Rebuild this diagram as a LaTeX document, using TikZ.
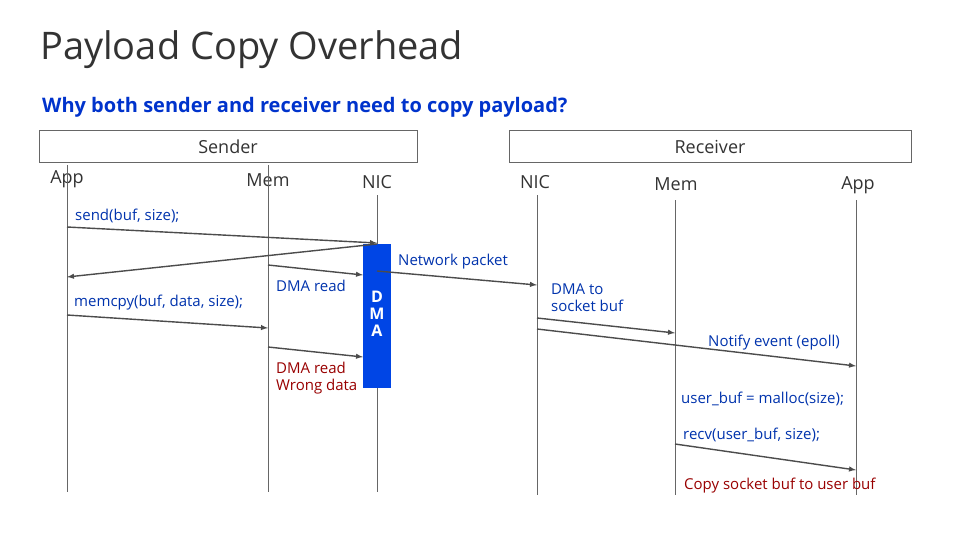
\documentclass[tikz,border=0pt]{standalone}
\usepackage{fontspec}
\setmainfont{Open Sans}
\begin{document}
\begin{tikzpicture}[x=1pt,y=-1pt,
  life/.style={draw=black!60,line width=0.8pt},
  msg/.style={draw=black!70,line width=1.4pt,-latex},
  lbl/.style={text=blue!60!black!80!cyan,font=\fontsize{15}{17}\selectfont,inner sep=0pt},
  red/.style={text=red!60!black,font=\fontsize{15}{17}\selectfont,inner sep=0pt},
  head/.style={text=black!80,font=\fontsize{18}{20}\selectfont,inner sep=0pt}]
\useasboundingbox (0,0) rectangle (979,551);
\fill[white] (0,0) rectangle (979,551);
\node[anchor=west,inner sep=0pt,font=\fontsize{38}{42}\selectfont,text=black!80] (title) at (40,50) {Payload Copy Overhead};
\node[anchor=west,inner sep=0pt,font=\fontsize{20}{24}\selectfont\bfseries,text=blue!75!cyan!80!black] (sub) at (42,107) {Why both sender and receiver need to copy payload?};
\node[draw=black!60,minimum width=378,minimum height=32,anchor=north west,inner sep=0pt] (sbox) at (39,130) {};
\node[head] at (228,147) {Sender};
\node[draw=black!60,minimum width=402,minimum height=32,anchor=north west,inner sep=0pt] (rbox) at (509,130) {};
\node[head] at (710,147) {Receiver};
\node[head] (h1) at (67,179) {App};
\node[head] (h2) at (268,180) {Mem};
\node[head] (h3) at (377,182) {NIC};
\node[head] (h4) at (535,182) {NIC};
\node[head] (h5) at (676,184) {Mem};
\node[head] (h6) at (858,185) {App};
\coordinate (a1) at (67,165); \coordinate (a1e) at (67,492);
\coordinate (m1) at (268,165); \coordinate (m1e) at (268,492);
\coordinate (n1) at (377,195); \coordinate (n1e) at (377,492);
\coordinate (n2) at (537,195); \coordinate (n2e) at (537,495);
\coordinate (m2) at (675,200); \coordinate (m2e) at (675,495);
\coordinate (a2) at (856,200); \coordinate (a2e) at (856,495);
\foreach \p in {a1,m1,n1,n2,m2,a2} \draw[life] (\p) -- (\p e);
\node[fill=blue!70!cyan!90!black,minimum width=28,minimum height=144,anchor=north west,inner sep=0pt] (dma) at (363,244) {};
\node[text=white,font=\fontsize{16}{17}\selectfont\bfseries,align=center] at (377,314) {D\\M\\A};
\coordinate (s1) at (67,227); \coordinate (s2) at (377,243);
\coordinate (b1) at (377,244); \coordinate (b2) at (67,277);
\coordinate (d1) at (268,265); \coordinate (d2) at (363,275);
\coordinate (c1) at (67,315); \coordinate (c2) at (268,328);
\coordinate (e1) at (268,347); \coordinate (e2) at (363,357);
\coordinate (p1) at (377,271); \coordinate (p2) at (537,285);
\coordinate (q1) at (537,318); \coordinate (q2) at (675,333);
\coordinate (r1) at (537,329); \coordinate (r2) at (856,366);
\coordinate (t1) at (675,444); \coordinate (t2) at (856,470);
\draw[msg] (s1) -- (s2);
\draw[msg] (b1) -- (b2);
\draw[msg] (d1) -- (d2);
\draw[msg] (c1) -- (c2);
\draw[msg] (e1) -- (e2);
\draw[msg] (p1) -- (p2);
\draw[msg] (q1) -- (q2);
\draw[msg] (r1) -- (r2);
\draw[msg] (t1) -- (t2);
\node[lbl,anchor=west] at (75,216) {send(buf, size);};
\node[lbl,anchor=west] at (398,262) {Network packet};
\node[lbl,anchor=west] at (276,286) {DMA read};
\node[lbl,anchor=west] at (74,303) {memcpy(buf, data, size);};
\node[red,anchor=west,align=left] at (276,378) {DMA read\\Wrong data};
\node[lbl,anchor=west,align=left] at (551,298) {DMA to\\socket buf};
\node[lbl,anchor=west] at (708,343) {Notify event (epoll)};
\node[lbl,anchor=west] at (681,399) {user\_buf = malloc(size);};
\node[lbl,anchor=west] at (683,435) {recv(user\_buf, size);};
\node[red,anchor=west] at (684,486) {Copy socket buf to user buf};
\end{tikzpicture}
\end{document}
